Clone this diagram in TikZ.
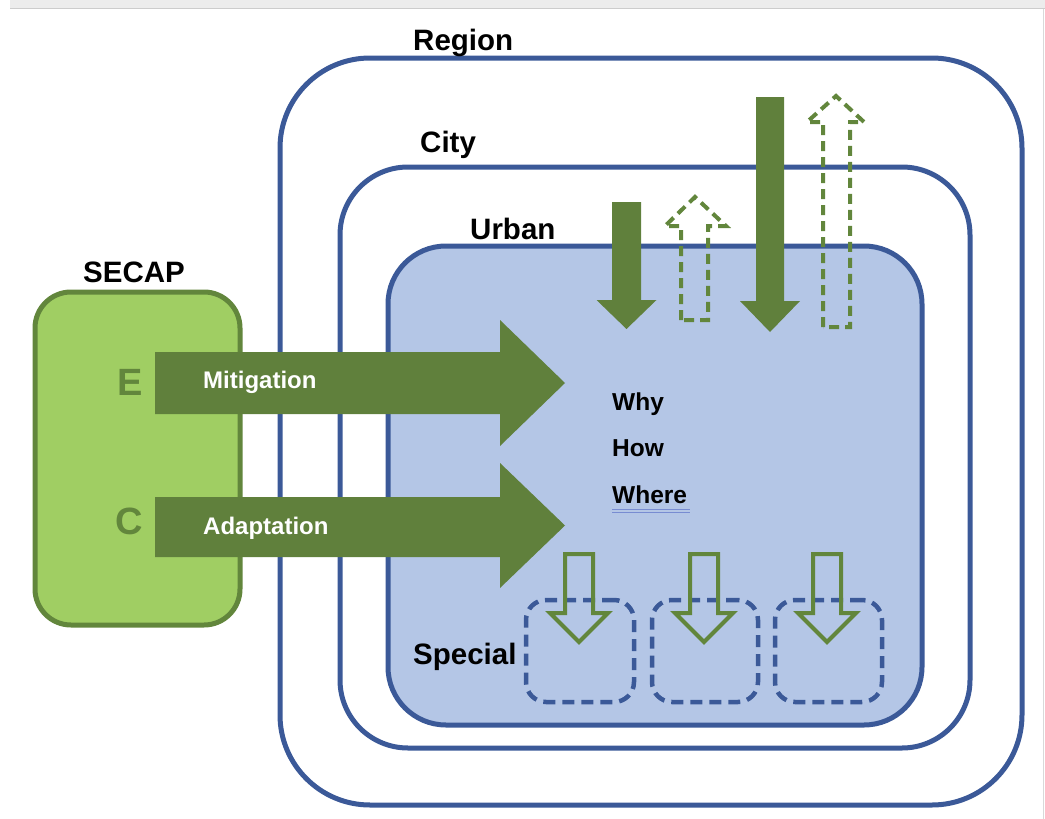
\documentclass[tikz,border=0pt]{standalone}
\usepackage{fontspec}
\setmainfont{Liberation Sans}
\begin{document}
\definecolor{bblue}{RGB}{59,89,152}
\definecolor{ufill}{RGB}{180,198,230}
\definecolor{sfill}{RGB}{160,206,99}
\definecolor{sline}{RGB}{98,134,60}
\definecolor{dgreen}{RGB}{96,128,60}
\definecolor{ulin}{RGB}{120,140,210}
\begin{tikzpicture}[x=1pt,y=-1pt,
  zone/.style={draw=bblue,line width=5pt,rectangle,inner sep=0pt},
  lbl/.style={inner sep=0pt,anchor=base west,font=\fontsize{29.5}{34}\selectfont\bfseries},
  wlbl/.style={inner sep=0pt,anchor=base west,text=white,font=\fontsize{24}{28}\selectfont\bfseries},
  qlbl/.style={inner sep=0pt,anchor=base west,font=\fontsize{24.5}{28}\selectfont\bfseries},
  bigarrow/.style={fill=dgreen},
  dasharrow/.style={draw=sline,line width=4pt,dash pattern=on 10pt off 6pt},
  holarrow/.style={draw=sline,line width=4pt},
  spbox/.style={draw=bblue,line width=4.5pt,dash pattern=on 12pt off 7pt,rectangle,inner sep=0pt,rounded corners=20pt}]
\useasboundingbox (0,0) rectangle (1045,819);
\fill[gray!15] (10,0) rectangle (1045,8);
\draw[gray!40,line width=1.5pt] (10,8.5) -- (1045,8.5);
\draw[gray!30,line width=1pt] (1043.5,8.5) -- (1043.5,819);
% zones
\node[zone,minimum width=742pt,minimum height=747pt,rounded corners=90pt] (region) at (651,431.5) {};
\node[zone,minimum width=630pt,minimum height=581pt,rounded corners=68pt] (city) at (655,457.5) {};
\node[zone,fill=ufill,minimum width=534pt,minimum height=479pt,rounded corners=58pt] (urban) at (655,485.5) {};
\node[draw=sline,fill=sfill,line width=5pt,rectangle,inner sep=0pt,minimum width=205pt,minimum height=333pt,rounded corners=36pt] (secap) at (137.5,458.5) {};
% labels
\node[lbl] (tregion) at (413,50) {Region};
\node[lbl] (tcity) at (420,152) {City};
\node[lbl] (turban) at (470,239) {Urban};
\node[lbl] (tsecap) at (83,282) {SECAP};
\node[lbl] (tspecial) at (413,664) {Special};
% big arrows
\fill[bigarrow] (155,352) -- (500,352) -- (500,320) -- (565,383) -- (500,446) -- (500,414) -- (155,414) -- cycle;
\fill[bigarrow] (155,497) -- (500,497) -- (500,463) -- (565,525.5) -- (500,588) -- (500,557) -- (155,557) -- cycle;
\node[wlbl] (tmit) at (203,388) {Mitigation};
\node[wlbl] (tada) at (203,534) {Adaptation};
\node[inner sep=0pt,anchor=base west,text=sline,font=\fontsize{38}{40}\selectfont\bfseries] (te) at (117,395) {E};
\node[inner sep=0pt,anchor=base west,text=sline,font=\fontsize{38}{40}\selectfont\bfseries] (tc) at (115,534) {C};
% why how where
\node[qlbl] (twhy) at (612,410) {Why};
\node[qlbl] (thow) at (612,456) {How};
\node[qlbl] (twhere) at (612,503) {Where};
\draw[ulin,line width=0.8pt] (twhere.base west) ++(0,6.5) -- ++(78,0);
\draw[ulin,line width=0.8pt] (twhere.base west) ++(0,9) -- ++(78,0);
% vertical arrows
\fill[bigarrow] (612,202) -- (641,202) -- (641,300) -- (656.5,300) -- (626.5,329) -- (596.5,300) -- (612,300) -- cycle;
\fill[bigarrow] (756,97) -- (784,97) -- (784,301) -- (800,301) -- (770,332) -- (740,301) -- (756,301) -- cycle;
\draw[dasharrow] (681,320) -- (681,226) -- (665,226) -- (695,197) -- (726,226) -- (708,226) -- (708,320) -- cycle;
\draw[dasharrow] (823,327) -- (823,122) -- (807,122) -- (836,96) -- (864,122) -- (850,122) -- (850,327) -- cycle;
% special boxes
\node[spbox,minimum width=108pt,minimum height=102pt] (sp1) at (580,651) {};
\node[spbox,minimum width=106pt,minimum height=102pt] (sp2) at (705,651) {};
\node[spbox,minimum width=107pt,minimum height=102pt] (sp3) at (828.5,651) {};
\foreach \dx in {0,125,248}{
  \draw[holarrow,xshift=\dx pt] (565,554) -- (593,554) -- (593,613) -- (608,613) -- (579,642) -- (550,613) -- (565,613) -- cycle;
}
\end{tikzpicture}
\end{document}
